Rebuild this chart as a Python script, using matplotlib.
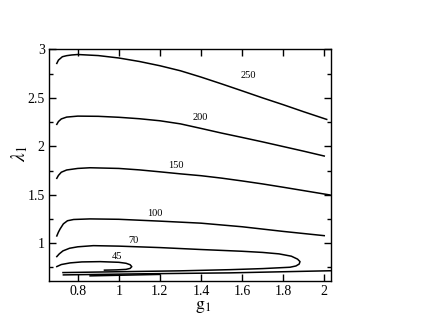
import matplotlib
matplotlib.use('Agg')
import matplotlib.pyplot as plt
from matplotlib.ticker import MultipleLocator

# contour lines (g1, lambda1)
g_250 = [0.698, 0.706, 0.725, 0.746, 0.770, 0.800, 0.900, 1.000, 1.100, 1.200, 1.300,
         1.400, 1.500, 1.600, 1.700, 1.800, 1.900, 2.012]
l_250 = [2.856, 2.890, 2.925, 2.936, 2.943, 2.948, 2.937, 2.912, 2.876, 2.832, 2.780,
         2.715, 2.645, 2.573, 2.500, 2.430, 2.357, 2.278]

g_200 = [0.698, 0.706, 0.720, 0.746, 0.800, 0.900, 1.000, 1.100, 1.200, 1.300, 1.400,
         1.500, 1.600, 1.700, 1.800, 1.900, 2.000]
l_200 = [2.227, 2.256, 2.283, 2.302, 2.312, 2.310, 2.300, 2.285, 2.264, 2.232, 2.185,
         2.137, 2.092, 2.046, 1.998, 1.950, 1.900]

g_150 = [0.698, 0.706, 0.720, 0.746, 0.800, 0.860, 1.000, 1.100, 1.200, 1.300, 1.400,
         1.500, 1.600, 1.700, 1.800, 1.900, 2.028]
l_150 = [1.670, 1.700, 1.733, 1.756, 1.772, 1.779, 1.772, 1.757, 1.737, 1.716, 1.697,
         1.672, 1.643, 1.612, 1.578, 1.543, 1.498]

g_100 = [0.698, 0.706, 0.714, 0.730, 0.750, 0.780, 0.860, 1.000, 1.200, 1.400, 1.600,
         1.800, 2.000]
l_100 = [1.075, 1.115, 1.147, 1.200, 1.232, 1.245, 1.251, 1.247, 1.228, 1.207, 1.170,
         1.122, 1.078]

g_70 = [0.698, 0.710, 0.728, 0.760, 0.800, 0.876, 1.000, 1.200, 1.400, 1.600, 1.700,
        1.780, 1.840, 1.870, 1.882, 1.878, 1.862, 1.833, 1.700, 1.541, 1.300, 1.103, 0.728]
l_70 = [0.862, 0.890, 0.921, 0.948, 0.963, 0.975, 0.970, 0.955, 0.935, 0.917, 0.905,
        0.890, 0.866, 0.836, 0.810, 0.785, 0.765, 0.752, 0.738, 0.727, 0.715, 0.709, 0.697]

g_45 = [0.698, 0.720, 0.763, 0.820, 0.909, 1.000, 1.035, 1.055, 1.063, 1.055, 1.035,
        0.990, 0.930]
l_45 = [0.759, 0.780, 0.797, 0.807, 0.810, 0.803, 0.793, 0.778, 0.758, 0.740, 0.730,
        0.725, 0.722]

g_low = [0.730, 1.103, 1.541, 2.033]
l_low = [0.673, 0.684, 0.694, 0.716]

g_low2 = [0.860, 1.200]
l_low2 = [0.663, 0.678]

labels = ['250', '200', '150', '100', '70', '45']
label_g = [1.632, 1.398, 1.276, 1.177, 1.069, 0.990]
label_l = [2.728, 2.296, 1.807, 1.309, 1.027, 0.860]


def main():
    plt.rcParams['font.family'] = ['Liberation Serif', 'DejaVu Serif']
    plt.rcParams['mathtext.fontset'] = 'stix'

    fig = plt.figure(figsize=(4.29, 3.32), dpi=100)
    ax = fig.add_axes([0.1142, 0.1536, 0.6574, 0.6974])

    kw = dict(color='black', lw=1.1, solid_joinstyle='round')
    for g, l in [(g_250, l_250), (g_200, l_200), (g_150, l_150), (g_100, l_100),
                 (g_70, l_70), (g_45, l_45), (g_low, l_low), (g_low2, l_low2)]:
        ax.plot(g, l, **kw)

    for t, gx, ly in zip(labels, label_g, label_l):
        ax.text(gx, ly, t, fontsize=7.5, ha='center', va='center')

    ax.set_xlim(0.66, 2.033)
    ax.set_ylim(0.61, 3.0)
    ax.yaxis.set_minor_locator(MultipleLocator(0.25))
    ax.set_xticks([0.8, 1.0, 1.2, 1.4, 1.6, 1.8, 2.0])
    ax.set_xticklabels(['0.8', '1', '1.2', '1.4', '1.6', '1.8', '2'])
    ax.set_yticks([1.0, 1.5, 2.0, 2.5, 3.0])
    ax.set_yticklabels(['1', '1.5', '2', '2.5', '3'])
    ax.tick_params(which='both', direction='in', top=True, right=True,
                   labelsize=10, width=1.0, pad=3)
    ax.tick_params(which='major', length=5)
    ax.tick_params(which='minor', length=3)
    for s in ax.spines.values():
        s.set_linewidth(1.0)

    ax.set_xlabel(r'$\mathrm{g}_1$', fontsize=13)
    ax.set_ylabel(r'$\lambda_1$', fontsize=14)
    ax.xaxis.set_label_coords(0.546, -0.072)
    ax.yaxis.set_label_coords(-0.068, 0.55)

    fig.savefig('out.png', dpi=100)


if __name__ == '__main__':
    main()
